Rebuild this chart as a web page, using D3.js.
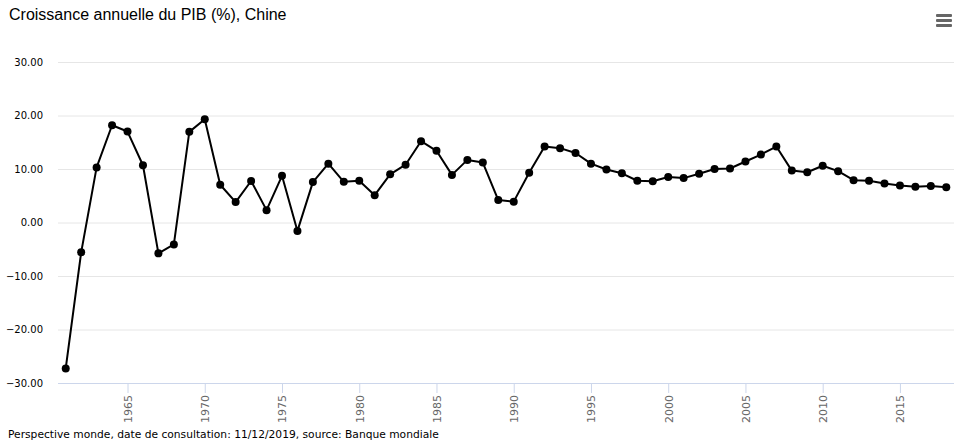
<!DOCTYPE html>
<html><head><meta charset="utf-8">
<script src="https://cdn.jsdelivr.net/npm/d3@7"></script>
<style>body{margin:0;background:#fff}svg{display:block}</style>
</head><body>
<svg id="c" width="962" height="446"></svg>
<script>
const years = d3.range(1961, 2019);
const growth = [-27.27,-5.58,10.30,18.18,17.0,10.7,-5.77,-4.1,16.94,19.3,7.06,3.81,7.76,2.31,8.72,-1.57,7.55,11.0,7.6,7.8,5.1,9.0,10.8,15.2,13.4,8.9,11.7,11.2,4.2,3.9,9.3,14.2,13.9,13.0,11.0,9.9,9.2,7.8,7.7,8.5,8.3,9.1,10.0,10.1,11.4,12.7,14.2,9.7,9.4,10.6,9.6,7.9,7.8,7.3,6.9,6.7,6.8,6.6];
const yTicks = [-30,-20,-10,0,10,20,30];
const xTicks = [1965,1970,1975,1980,1985,1990,1995,2000,2005,2010,2015];
const title = "Croissance annuelle du PIB (%), Chine";
const credit = "Perspective monde, date de consultation: 11/12/2019, source: Banque mondiale";

const svg = d3.select("#c");
const L = 58, R = 954, T = 62, B = 383;
const x = d3.scaleLinear().domain([1960.5, 2018.5]).range([L, R]);
const y = d3.scaleLinear().domain([-30, 30]).range([B, T]);

svg.append("text").attr("x", 9).attr("y", 20).attr("font-family", "Liberation Sans, Arial, sans-serif")
  .attr("font-size", 16).attr("fill", "#000").text(title);

// menu icon
[0,5,10].forEach(d => svg.append("rect").attr("x", 936).attr("y", 14 + d).attr("width", 16).attr("height", 3).attr("rx",1).attr("fill", "#666"));

// grid
const gy = svg.append("g").attr("transform", `translate(${L},0)`)
  .call(d3.axisLeft(y).tickValues(yTicks).tickSize(-(R - L)).tickFormat(d3.format(".2f")));
gy.select(".domain").remove();
gy.selectAll(".tick line").attr("stroke", d => d === -30 ? "none" : "#e6e6e6");
gy.selectAll(".tick text").attr("x", -15).attr("fill", "#000").attr("font-size", 10)
  .attr("font-family", "DejaVu Sans, Verdana, sans-serif").text(d => d3.format(".2f")(d).replace("-", "−"));

// x axis
const gx = svg.append("g").attr("transform", `translate(0,${B})`)
  .call(d3.axisBottom(x).tickValues(xTicks).tickSize(10).tickFormat(d3.format("d")));
gx.select(".domain").attr("stroke", "#ccd6eb").attr("d", `M${L},0.5H${R}`);
gx.selectAll(".tick line").attr("stroke", "#ccd6eb");
gx.selectAll(".tick text").attr("fill", "#666").attr("font-size", 11)
  .attr("font-family", "DejaVu Sans, Verdana, sans-serif")
  .attr("transform", "rotate(-90)").attr("text-anchor", "end").attr("x", -12).attr("y", 0).attr("dy", "0.35em");

const data = years.map((yr, i) => [yr, growth[i]]);
svg.append("path").datum(data).attr("fill", "none").attr("stroke", "#000").attr("stroke-width", 2)
  .attr("stroke-linejoin", "round")
  .attr("d", d3.line().x(d => x(d[0])).y(d => y(d[1])));
svg.append("g").selectAll("circle").data(data).join("circle")
  .attr("cx", d => x(d[0])).attr("cy", d => y(d[1])).attr("r", 4).attr("fill", "#000");

svg.append("text").attr("x", 8).attr("y", 438).attr("font-family", "DejaVu Sans, Verdana, sans-serif")
  .attr("font-size", 10.7).attr("fill", "#000").text(credit);
</script>
</body></html>
